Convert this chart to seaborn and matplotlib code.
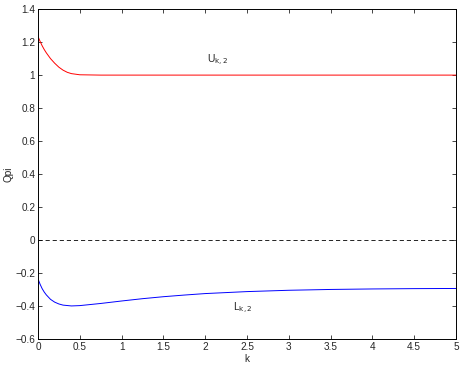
import numpy as np
import pandas as pd
import matplotlib
matplotlib.use("Agg")
import matplotlib.pyplot as plt
import seaborn as sns

sns.set_style("white")
plt.rcParams["font.family"] = ["Liberation Sans", "DejaVu Sans"]
plt.rcParams["axes.unicode_minus"] = True

# upper bound U_{k,2}
k_upper = [0, 0.025, 0.05, 0.075, 0.1, 0.15, 0.2, 0.25, 0.3, 0.35, 0.4, 0.5, 0.75, 1, 2, 3, 4, 5]
u_vals = [1.235, 1.205, 1.178, 1.155, 1.135, 1.10, 1.072, 1.048, 1.030, 1.017, 1.009, 1.002, 1.0, 1.0, 1.0, 1.0, 1.0, 1.0]

# lower bound L_{k,2}
k_lower = [0, 0.025, 0.05, 0.075, 0.1, 0.15, 0.2, 0.25, 0.3, 0.4, 0.5, 0.75, 1.0, 1.25, 1.5, 1.75,
           2.0, 2.5, 3.0, 3.5, 4.0, 4.5, 5.0]
l_vals = [-0.235, -0.268, -0.295, -0.316, -0.333, -0.36, -0.377, -0.388, -0.395, -0.400, -0.398,
          -0.385, -0.370, -0.356, -0.344, -0.334, -0.325, -0.313, -0.305, -0.300, -0.297, -0.295, -0.294]

zero_k = [0, 5]
zero_vals = [0, 0]

df_u = pd.DataFrame({"k": k_upper, "Qpi": u_vals})
df_l = pd.DataFrame({"k": k_lower, "Qpi": l_vals})

fig = plt.figure(figsize=(4.63, 3.66), dpi=100)
ax = fig.add_axes([0.082, 0.074, 0.903, 0.901])

sns.lineplot(data=df_u, x="k", y="Qpi", ax=ax, color="red", linewidth=0.7)
sns.lineplot(data=df_l, x="k", y="Qpi", ax=ax, color="blue", linewidth=0.7)
ax.plot(zero_k, zero_vals, color="black", linestyle=(0, (5, 3.5)), linewidth=0.6)

ax.text(2.02, 1.09, r"U$_{\rm k,2}$", fontsize=7.5, ha="left", va="center")
ax.text(2.33, -0.415, r"L$_{\rm k,2}$", fontsize=7.5, ha="left", va="center")

ax.set_xlim(0, 5)
ax.set_ylim(-0.6, 1.4)
ax.set_xticks(np.arange(0, 5.01, 0.5))
ax.set_xticklabels(["0", "0.5", "1", "1.5", "2", "2.5", "3", "3.5", "4", "4.5", "5"])
ax.set_yticks(np.arange(-0.6, 1.41, 0.2))
ax.set_yticklabels(["\u22120.6", "\u22120.4", "\u22120.2", "0", "0.2", "0.4", "0.6", "0.8", "1", "1.2", "1.4"])
ax.tick_params(direction="in", length=3, width=0.6, labelsize=7.2, top=True, right=True,
               bottom=True, left=True, pad=2)
for s in ax.spines.values():
    s.set_linewidth(0.7)
    s.set_color("black")
ax.set_xlabel("k", fontsize=7.2, labelpad=2)
ax.set_ylabel("Qpi", fontsize=7.2, labelpad=1)

fig.savefig("out.png", dpi=100)
